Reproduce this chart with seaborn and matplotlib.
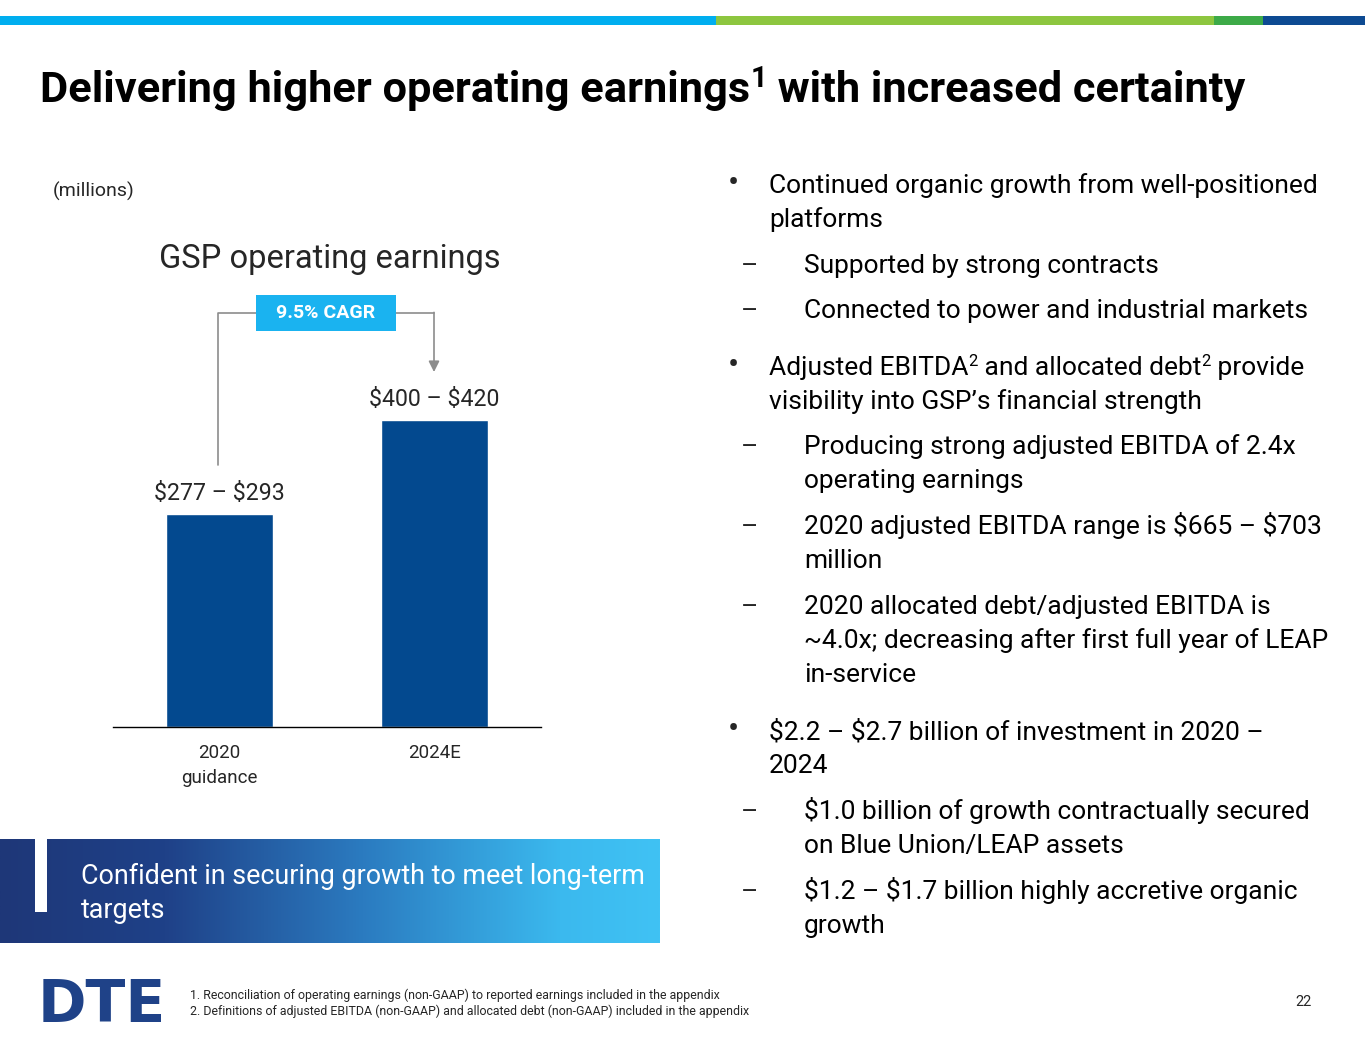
import numpy as np
import pandas as pd
import matplotlib
matplotlib.use('Agg')
import matplotlib.pyplot as plt
import seaborn as sns
from matplotlib.patches import Rectangle
from matplotlib.lines import Line2D
from matplotlib.colors import LinearSegmentedColormap

# ---------------- data ----------------
categories = ['2020\nguidance', '2024E']
low = [277, 400]
high = [293, 420]
cagr_label = '9.5% CAGR'
chart_title = 'GSP operating earnings'
unit_label = '(millions)'

W, H = 1365, 1055
sns.set_theme(style='white')
plt.rcParams['font.family'] = ['Roboto', 'DejaVu Sans']
plt.rcParams['text.parse_math'] = False

fig = plt.figure(figsize=(W / 100, H / 100), dpi=100)
fig.patch.set_facecolor('white')
R = fig.canvas.get_renderer()

def fx(x):
    return x / W

def fy(y):
    return 1 - y / H

def rect(x0, y0, x1, y1, color, z=1):
    fig.patches.append(Rectangle((fx(x0), fy(y1)), (x1 - x0) / W, (y1 - y0) / H,
                                 transform=fig.transFigure, facecolor=color,
                                 edgecolor='none', zorder=z))

def runs(x, y, parts, color='black'):
    for txt, size, dy, weight in parts:
        t = fig.text(fx(x), fy(y - dy), txt, fontsize=size, fontweight=weight,
                     va='baseline', ha='left', color=color)
        x += t.get_window_extent(R).width

# ---------------- top stripe ----------------
rect(0, 16, 716, 25, '#00AEEF')
rect(716, 16, 1214, 25, '#8DC63F')
rect(1214, 16, 1263, 25, '#3DAA48')
rect(1263, 16, 1365, 25, '#0D4A92')

# ---------------- title ----------------
runs(40, 102, [('Delivering higher operating earnings', 31.2, 0, 'bold'),
               ('1', 21, 15, 'bold'),
               (' with increased certainty', 31.2, 0, 'bold')])

# ---------------- chart ----------------
fig.text(fx(53), fy(191), unit_label, fontsize=14, va='center', ha='left')
fig.text(fx(330), fy(259), chart_title, fontsize=23.5, va='center', ha='center')

df = pd.DataFrame({'cat': categories,
                   'mid': [(l + h) / 2 for l, h in zip(low, high)]})
ax = fig.add_axes([fx(113), fy(727), (541 - 113) / W, (727 - 300) / H])
sns.barplot(data=df, x='cat', y='mid', color='#03498F', saturation=1,
            width=0.5, ax=ax)
ax.set_xlim(-0.495, 1.495)
ax.set_ylim(0, 571)
for s in ['top', 'left', 'right']:
    ax.spines[s].set_visible(False)
ax.spines['bottom'].set_color('black')
ax.spines['bottom'].set_linewidth(1.0)
ax.set_yticks([])
ax.set_xlabel('')
ax.set_ylabel('')
ax.set_facecolor('none')
ax.tick_params(axis='x', length=0, pad=12, labelsize=13.5)
for lab in ax.get_xticklabels():
    lab.set_linespacing(1.55)
    lab.set_verticalalignment('top')

for i, (l, h, m) in enumerate(zip(low, high, df['mid'])):
    ax.annotate(f'${l} – ${h}', xy=(i, m), xytext=(0, 15),
                textcoords='offset points', ha='center', va='center',
                fontsize=16.7)

# CAGR connector
gray = '#8C8C8C'
fig.lines.append(Line2D([fx(218), fx(218), fx(256)], [fy(465), fy(313), fy(313)],
                        transform=fig.transFigure, color=gray, lw=1.2))
fig.lines.append(Line2D([fx(396), fx(434)], [fy(313), fy(313)],
                        transform=fig.transFigure, color=gray, lw=1.2))
ax.annotate('', xy=(fx(434), fy(372)), xytext=(fx(434), fy(312.4)),
            xycoords='figure fraction', textcoords='figure fraction',
            arrowprops=dict(arrowstyle='-|>', color=gray, lw=1.2,
                            mutation_scale=16, shrinkA=0, shrinkB=0))
rect(256, 295, 396, 331, '#1AB3F0', z=3)
fig.text(fx(326), fy(313), cagr_label, fontsize=14, fontweight='bold',
         color='white', ha='center', va='center', zorder=4)

# ---------------- banner ----------------
bax = fig.add_axes([0, fy(943), 660 / W, (943 - 839) / H])
cmap = LinearSegmentedColormap.from_list(
    'g', [(0, '#1E3778'), (0.25, '#1F4188'), (0.55, '#2B7BC0'),
          (0.85, '#3BB9EE'), (1, '#40C2F4')])
bax.imshow(np.linspace(0, 1, 256)[None, :], aspect='auto', cmap=cmap,
           extent=[0, 1, 0, 1])
bax.set_axis_off()
rect(35, 839, 47, 912, 'white', z=5)
fig.text(fx(81), fy(876), 'Confident in securing growth to meet long-term',
         fontsize=19.4, color='white', va='center', ha='left', zorder=6)
fig.text(fx(81), fy(910), 'targets', fontsize=19.4, color='white',
         va='center', ha='left', zorder=6)

# ---------------- right text ----------------
FS = 19
SUP = 12
def bullet(y, parts, sub=False):
    if sub:
        fig.text(fx(741), fy(y + 9), '–', fontsize=FS, va='baseline', ha='left')
        runs(804, y + 9, parts)
    else:
        fig.text(fx(733), fy(y), '•', fontsize=24, va='center', ha='center')
        runs(769, y + 9, parts)

def line(y, txt, sub=False):
    runs(804 if sub else 769, y + 9, [(txt, FS, 0, 'normal')])

bullet(184, [('Continued organic growth from well-positioned', FS, 0, 'normal')])
line(218, 'platforms')
bullet(264, [('Supported by strong contracts', FS, 0, 'normal')], sub=True)
bullet(309, [('Connected to power and industrial markets', FS, 0, 'normal')], sub=True)
bullet(366, [('Adjusted EBITDA', FS, 0, 'normal'), ('2', SUP, 9, 'normal'),
             (' and allocated debt', FS, 0, 'normal'), ('2', SUP, 9, 'normal'),
             (' provide', FS, 0, 'normal')])
line(400, 'visibility into GSP’s financial strength')
bullet(445, [('Producing strong adjusted EBITDA of 2.4x', FS, 0, 'normal')], sub=True)
line(479, 'operating earnings', sub=True)
bullet(525, [('2020 adjusted EBITDA range is $665 – $703', FS, 0, 'normal')], sub=True)
line(559, 'million', sub=True)
bullet(605, [('2020 allocated debt/adjusted EBITDA is', FS, 0, 'normal')], sub=True)
line(639, '~4.0x; decreasing after first full year of LEAP', sub=True)
line(673, 'in-service', sub=True)
bullet(730, [('$2.2 – $2.7 billion of investment in 2020 –', FS, 0, 'normal')])
line(764, '2024')
bullet(810, [('$1.0 billion of growth contractually secured', FS, 0, 'normal')], sub=True)
line(844, 'on Blue Union/LEAP assets', sub=True)
bullet(890, [('$1.2 – $1.7 billion highly accretive organic', FS, 0, 'normal')], sub=True)
line(924, 'growth', sub=True)

# ---------------- footer ----------------
fig.text(fx(38), fy(1022), 'DTE', fontsize=42, fontweight='heavy',
         family=['DejaVu Sans'], color='#1F4288', va='baseline', ha='left')
fig.text(fx(190), fy(995), '1. Reconciliation of operating earnings (non-GAAP) to reported earnings included in the appendix',
         fontsize=8.9, va='center', ha='left')
fig.text(fx(190), fy(1011), '2. Definitions of adjusted EBITDA (non-GAAP) and allocated debt (non-GAAP) included in the appendix',
         fontsize=8.9, va='center', ha='left')
fig.text(fx(1303), fy(1002), '22', fontsize=10.5, va='center', ha='center')

fig.savefig('out.png', dpi=100, facecolor='white')
